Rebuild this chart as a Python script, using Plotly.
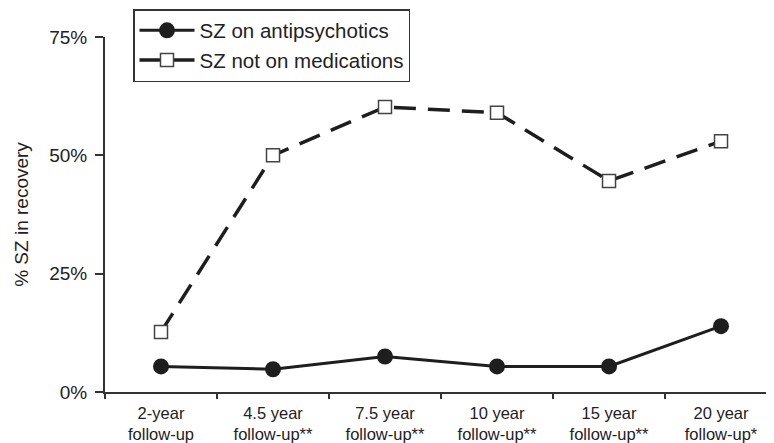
import plotly.graph_objects as go

categories = ["2-year<br>follow-up", "4.5 year<br>follow-up**", "7.5 year<br>follow-up**",
              "10 year<br>follow-up**", "15 year<br>follow-up**", "20 year<br>follow-up*"]
on_antipsychotics = [5.4, 4.8, 7.5, 5.4, 5.4, 13.9]
not_on_medications = [12.7, 50.0, 60.2, 59.0, 44.6, 53.0]
y_ticks = [0, 25, 50, 75]
y_tick_labels = ["0%", "25%", "50%", "75%"]

FONT = "Liberation Sans, Arial, sans-serif"
INK = "#1e1e1e"

fig = go.Figure()
fig.add_trace(go.Scatter(
    x=categories, y=on_antipsychotics, name="SZ on antipsychotics",
    mode="lines+markers",
    line=dict(color=INK, width=3),
    marker=dict(symbol="circle", size=16, color=INK),
))
fig.add_trace(go.Scatter(
    x=categories, y=not_on_medications, name="SZ not on medications",
    mode="lines+markers",
    line=dict(color=INK, width=3.5, dash="22px,12px"),
    marker=dict(symbol="square", size=13, color="white", line=dict(color="#444", width=1.5)),
))

# page body has an 8px margin: figure is placed at (8, 8) in the window
OFF = 8
W, Hf = 774 - OFF, 443 - OFF
L, T, B = 105 - OFF, 37 - OFF, Hf - (392 - OFF)
PW, PH = W - L, Hf - T - B

fig.update_layout(
    width=W, height=Hf,
    margin=dict(l=L, r=0, t=T, b=B, pad=0, autoexpand=False),
    paper_bgcolor="white", plot_bgcolor="white",
    font=dict(family=FONT, color="#222"),
    showlegend=True,
    legend=dict(
        x=(133 - 105) / PW, y=(392 - 9) / PH, xanchor="left", yanchor="top",
        bordercolor="#333", borderwidth=1.5, bgcolor="white",
        font=dict(size=20.5, family=FONT, color="#222"),
        itemwidth=55,
    ),
    xaxis=dict(
        type="category", tickson="boundaries",
        range=[-0.5, 5.473], tickangle=0,
        showline=True, linecolor="#333", linewidth=2,
        ticks="outside", ticklen=5, tickcolor="#333", tickwidth=1.5,
        showgrid=False, zeroline=False, ticklabelstandoff=5,
        tickfont=dict(size=16.5, family=FONT, color="#222"),
    ),
    yaxis=dict(
        range=[0, 75], tickmode="array", tickvals=y_ticks, ticktext=y_tick_labels,
        showline=True, linecolor="#333", linewidth=2,
        ticks="outside", ticklen=8, tickcolor="#333", tickwidth=1.5,
        showgrid=False, zeroline=False, ticklabelstandoff=4,
        tickfont=dict(size=19, family=FONT, color="#222"),
        title=dict(text="% SZ in recovery", font=dict(size=19, family=FONT, color="#222"), standoff=16),
    ),
)

fig.write_html("out.html")
